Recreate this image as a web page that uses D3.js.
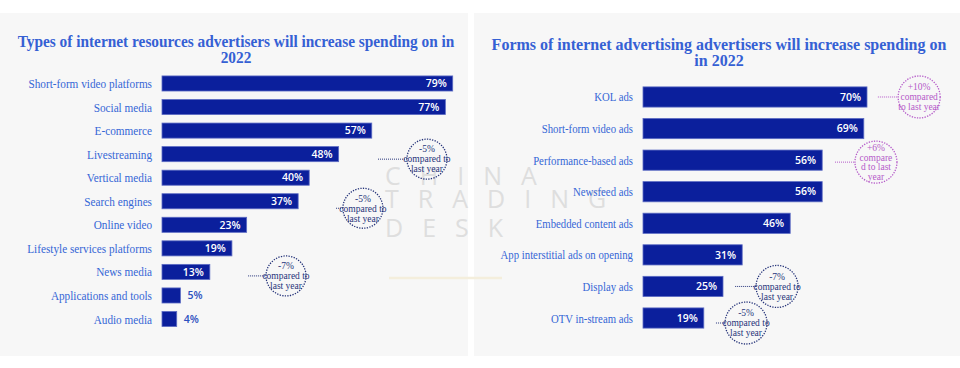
<!DOCTYPE html>
<html>
<head>
<meta charset="utf-8">
<script src="https://cdn.jsdelivr.net/npm/d3@7"></script>
<style>
  html, body { margin: 0; padding: 0; background: #fff; }
  svg { display: block; }
</style>
</head>
<body>
<div id="chart"></div>
<script>
// Left chart data
const resourceCategories = ['Short-form video platforms', 'Social media', 'E-commerce', 'Livestreaming',
  'Vertical media', 'Search engines', 'Online video', 'Lifestyle services platforms', 'News media',
  'Applications and tools', 'Audio media'];
const resourceValues = [79, 77, 57, 48, 40, 37, 23, 19, 13, 5, 4];

// Right chart data
const adCategories = ['KOL ads', 'Short-form video ads', 'Performance-based ads', 'Newsfeed ads',
  'Embedded content ads', 'App interstitial ads on opening', 'Display ads', 'OTV in-stream ads'];
const adValues = [70, 69, 56, 56, 46, 31, 25, 19];

// Year-on-year notes: category, text lines, leader start and circle centre (in % units)
const resourceNotes = [
  { cat: 'Livestreaming', lines: ['-5%', 'compared to', 'last year'], from: 58.7, at: 72, dy: 5 },
  { cat: 'Search engines', lines: ['-5%', 'compared to', 'last year'], from: 47.3, at: 54.6, dy: 7 },
  { cat: 'News media', lines: ['-7%', 'compared to', 'last year'], from: 23.4, at: 33.7, dy: 4 }
];
const adNotes = [
  { cat: 'KOL ads', lines: ['+10%', 'compared', 'to last year'], from: 73.4, at: 86.3, dy: 0, up: true },
  { cat: 'Performance-based ads', lines: ['+6%', 'compare', 'd to last', 'year'], from: 60, at: 72.8, dy: 2, up: true },
  { cat: 'Display ads', lines: ['-7%', 'compared to', 'last year'], from: 28.8, at: 41.9, dy: 0 },
  { cat: 'OTV in-stream ads', lines: ['-5%', 'compared to', 'last year'], from: 22.8, at: 32.2, dy: 5 }
];

const W = 960, H = 368;
const BAR = '#0b1f9c', LABEL = '#3566d6', TITLE = '#3560d4';
const NAVY = '#26347a', MAGENTA = '#b55bc9';

const svg = d3.select('#chart').append('svg')
  .attr('width', W).attr('height', H)
  .style('font-family', '"Liberation Serif", "Times New Roman", serif');

// panels
svg.append('rect').attr('x', 0).attr('y', 13).attr('width', 468).attr('height', 343).attr('fill', '#f7f7f7');
svg.append('rect').attr('x', 474).attr('y', 13).attr('width', 486).attr('height', 343).attr('fill', '#f7f7f7');

// watermark
const wm = svg.append('g').attr('fill', '#dedede')
  .style('font-family', '"Open Sans", sans-serif').style('font-weight', 400)
  .style('font-size', '25px');
[['CHINA', 185], ['TRADING', 208], ['DESK', 237]].forEach(([t, y]) => {
  wm.append('text').attr('x', 385).attr('y', y).attr('letter-spacing', '19px').text(t);
});
svg.append('line').attr('x1', 389).attr('x2', 502).attr('y1', 278).attr('y2', 278)
  .attr('stroke', '#f4eedc').attr('stroke-width', 2.5);

const drawChart = (cfg) => {
  const g = svg.append('g');
  const x = d3.scaleLinear().domain([0, 100]).range([cfg.x0, cfg.x0 + cfg.pxPer * 100]);
  const y = d3.scaleBand().domain(cfg.cats).range(cfg.yRange)
    .paddingInner(cfg.pad).paddingOuter(cfg.pad / 2);

  // title (slightly condensed like the source image)
  cfg.title.forEach((line, i) => {
    g.append('text')
      .attr('transform', `translate(${cfg.titleX},${cfg.titleY + i * 16}) scale(${cfg.titleSx},1)`)
      .attr('text-anchor', 'middle')
      .attr('fill', TITLE)
      .style('font-weight', 'bold')
      .style('font-size', '16px')
      .text(line);
  });

  // category labels
  g.selectAll('text.cat').data(cfg.cats).join('text')
    .attr('class', 'cat')
    .attr('transform', d => `translate(${cfg.x0 - 10},${y(d) + y.bandwidth() / 2}) scale(${cfg.labelSx},1)`)
    .attr('dy', '0.36em')
    .attr('text-anchor', 'end')
    .attr('fill', LABEL)
    .style('font-size', '12.5px')
    .text(d => d);

  const rows = cfg.cats.map((c, i) => ({ cat: c, v: cfg.vals[i] }));

  g.selectAll('rect.bar').data(rows).join('rect')
    .attr('class', 'bar')
    .attr('x', x(0))
    .attr('y', d => y(d.cat))
    .attr('width', d => x(d.v) - x(0))
    .attr('height', y.bandwidth())
    .attr('fill', BAR)
    .attr('stroke', '#5d6cc4')
    .attr('stroke-width', 0.8);

  g.selectAll('text.val').data(rows).join('text')
    .attr('class', 'val')
    .attr('x', d => d.v >= 10 ? x(d.v) - 6 : x(d.v) + 7)
    .attr('y', d => y(d.cat) + y.bandwidth() / 2)
    .attr('dy', '0.36em')
    .attr('text-anchor', d => d.v >= 10 ? 'end' : 'start')
    .attr('fill', d => d.v >= 10 ? '#fff' : '#2b4fbf')
    .style('font-family', '"Open Sans", sans-serif')
    .style('font-weight', 600)
    .style('font-size', cfg.valSize + 'px')
    .text(d => d.v + '%');

  // notes
  cfg.notes.forEach(n => {
    const color = n.up ? MAGENTA : NAVY;
    const cy = y(n.cat) + y.bandwidth() / 2 + n.dy;
    const cx = x(n.at);
    g.append('line')
      .attr('x1', x(n.from)).attr('x2', cx - cfg.r)
      .attr('y1', cy).attr('y2', cy)
      .attr('stroke', color).attr('stroke-width', 1)
      .attr('stroke-dasharray', '1,1');
    g.append('circle')
      .attr('cx', cx).attr('cy', cy).attr('r', cfg.r)
      .attr('fill', 'none').attr('stroke', color)
      .attr('stroke-width', 1.3).attr('stroke-dasharray', '1.3,1.3');
    const lh = n.lines.length > 3 ? 9.4 : 10;
    const top = cy - (n.lines.length - 1) * lh / 2;
    const t = g.append('text')
      .attr('text-anchor', 'middle').attr('fill', color)
      .style('font-size', '9.5px');
    n.lines.forEach((l, i) => {
      t.append('tspan').attr('x', cx).attr('y', top + i * lh).attr('dy', '0.35em').text(l);
    });
  });
};

drawChart({
  cats: resourceCategories, vals: resourceValues, notes: resourceNotes,
  x0: 162, pxPer: 3.68, yRange: [71.7, 330.8], pad: 0.36,
  title: ['Types of internet resources advertisers will increase spending on in', '2022'],
  titleX: 236, titleY: 47, titleSx: 0.96, labelSx: 0.9, valSize: 10.5, r: 20
});

drawChart({
  cats: adCategories, vals: adValues, notes: adNotes,
  x0: 643, pxPer: 3.2, yRange: [81.2, 333.8], pad: 0.36,
  title: ['Forms of internet advertising advertisers will increase spending on', 'in 2022'],
  titleX: 719, titleY: 50, titleSx: 1, labelSx: 0.86, valSize: 10.5, r: 21
});
</script>
</body>
</html>
